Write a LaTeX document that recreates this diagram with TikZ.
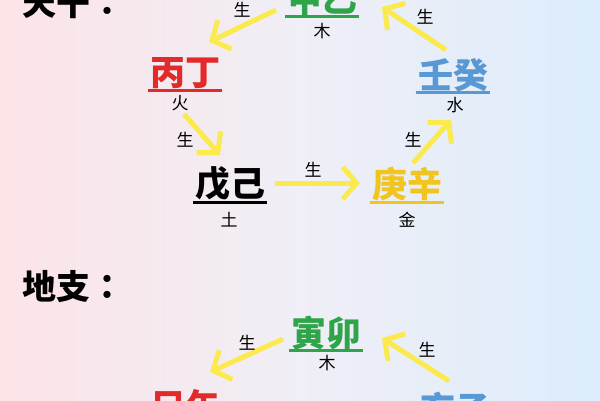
\documentclass[tikz,border=0pt]{standalone}
\usepackage{fontspec}
\newfontfamily\cjk{Noto Sans CJK SC}
\newfontfamily\cjktc{Noto Sans CJK TC}
\usetikzlibrary{arrows.meta}
\definecolor{bgl}{RGB}{252,228,231}
\definecolor{bgm}{RGB}{240,238,246}
\definecolor{bgr}{RGB}{220,237,251}
\definecolor{arrowy}{RGB}{250,234,78}
\definecolor{cred}{RGB}{226,42,42}
\definecolor{cgreen}{RGB}{46,165,72}
\definecolor{cblue}{RGB}{88,152,212}
\definecolor{cyel}{RGB}{242,196,30}
\tikzset{
  head/.style={font=\cjktc\bfseries\fontsize{34}{36}\selectfont, anchor=west, inner sep=0pt},
  gan/.style={font=\cjk\bfseries\fontsize{35}{37}\selectfont, inner sep=0pt},
  elem/.style={font=\cjk\fontsize{17}{18}\selectfont, inner sep=0pt},
  sheng/.style={font=\cjk\fontsize{17}{18}\selectfont, inner sep=0pt},
  flow/.style={draw=arrowy, line width=5pt, -{Straight Barb[length=14pt,width=32pt]}},
  ul/.style={line width=3pt}
}
\begin{document}
\begin{tikzpicture}[x=1pt,y=-1pt]
\useasboundingbox (0,0) rectangle (600,400);
\begin{scope}
\clip (0,0) rectangle (600,400);
\shade[left color=bgl, right color=bgr, middle color=bgm] (0,0) rectangle (600,400);

% headings
\node[head] (tg) at (22,4) {天干：};
\node[head] (dz) at (22,287) {地支：};

% tiangan
\node[gan, text=cgreen] (jy) at (322,0) {甲乙};
\node[elem] (mu1) at (322,31) {木};
\node[gan, text=cred] (bd) at (185,73) {丙丁};
\node[elem] (huo) at (180,103) {火};
\node[gan, text=black] (wj) at (230,184) {戊己};
\node[elem] (tu) at (229,220) {土};
\node[gan, text=cyel] (gx) at (407,184) {庚辛};
\node[elem] (jin) at (407,220) {金};
\node[gan, text=cblue] (rg) at (453,75) {壬癸};
\node[elem] (shui) at (455,105) {水};

% dizhi
\node[gan, text=cgreen] (ym) at (326,333) {寅卯};
\node[elem] (mu2) at (327,363) {木};
\node[gan, text=cred] (sw) at (186,406) {巳午};
\node[gan, text=cblue] (hz) at (455,409) {亥子};

% underlines
\draw[ul, cgreen] ([shift={(-2,16)}]jy.west) -- ([shift={(2,16)}]jy.east);
\draw[ul, cred] ([shift={(-2,17)}]bd.west) -- ([shift={(2,17)}]bd.east);
\draw[ul, black] ([shift={(-2,18)}]wj.west) -- ([shift={(2,18)}]wj.east);
\draw[ul, cyel] ([shift={(-2,18)}]gx.west) -- ([shift={(2,18)}]gx.east);
\draw[ul, cblue] ([shift={(-2,17)}]rg.west) -- ([shift={(2,17)}]rg.east);
\draw[ul, cgreen] ([shift={(-2,17)}]ym.west) -- ([shift={(2,17)}]ym.east);

% arrow ends
\coordinate (a1s) at (276,10); \coordinate (a1e) at (209,42);
\coordinate (a2s) at (446,50); \coordinate (a2e) at (382,7);
\coordinate (a3s) at (184,114); \coordinate (a3e) at (220,155);
\coordinate (a4s) at (275,183); \coordinate (a4e) at (360,183);
\coordinate (a5s) at (413,163); \coordinate (a5e) at (451,120);
\coordinate (a6s) at (283,339); \coordinate (a6e) at (210,372);
\coordinate (a7s) at (449,381); \coordinate (a7e) at (382,338);

\draw[flow] (a1s) -- (a1e);
\draw[flow] (a2s) -- (a2e);
\draw[flow] (a3s) -- (a3e);
\draw[flow] (a4s) -- (a4e);
\draw[flow] (a5s) -- (a5e);
\draw[flow] (a6s) -- (a6e);
\draw[flow] (a7s) -- (a7e);

% labels
\node[sheng] (s1) at (242,10) {生};
\node[sheng] (s2) at (425,17) {生};
\node[sheng] (s3) at (185,140) {生};
\node[sheng] (s4) at (313,170) {生};
\node[sheng] (s5) at (413,140) {生};
\node[sheng] (s6) at (247,343) {生};
\node[sheng] (s7) at (427,350) {生};
\end{scope}
\end{tikzpicture}
\end{document}
